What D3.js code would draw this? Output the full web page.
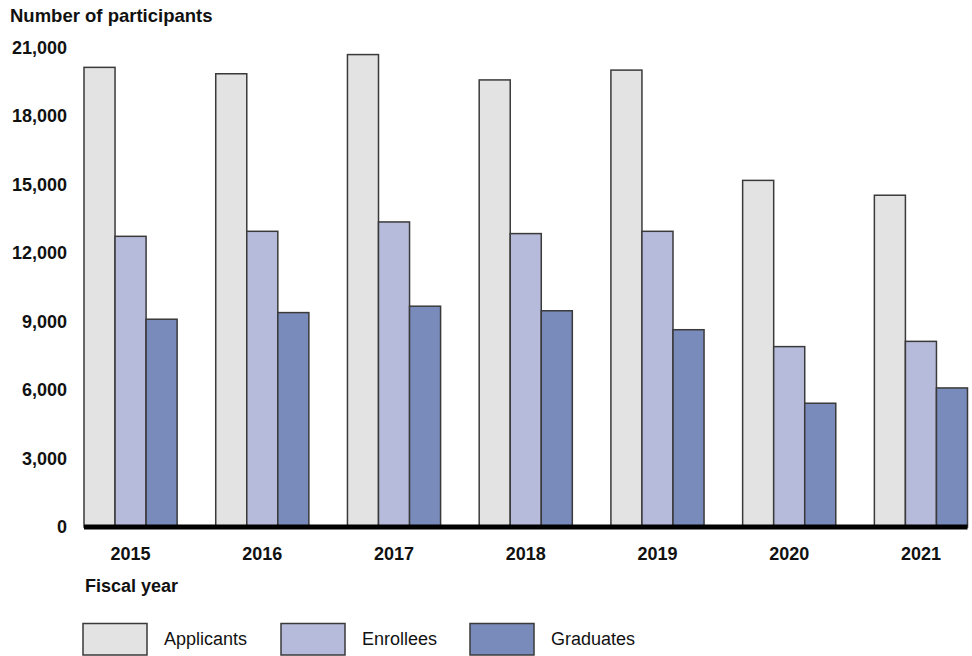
<!DOCTYPE html>
<html>
<head>
<meta charset="utf-8">
<script src="https://cdn.jsdelivr.net/npm/d3@7"></script>
<style>
  html, body { margin: 0; padding: 0; background: #fff; }
  svg { display: block; font-family: "Liberation Sans", Arial, sans-serif; }
</style>
</head>
<body>
<svg id="chart" width="972" height="656"></svg>
<script>
const years = ["2015", "2016", "2017", "2018", "2019", "2020", "2021"];
const seriesNames = ["Applicants", "Enrollees", "Graduates"];
const applicants = [20130, 19850, 20690, 19580, 20010, 15180, 14530];
const enrollees  = [12730, 12950, 13360, 12850, 12950, 7900, 8130];
const graduates  = [9100, 9390, 9670, 9470, 8640, 5420, 6090];
const yTicks = [0, 3000, 6000, 9000, 12000, 15000, 18000, 21000];
const colors = ["#e3e3e3", "#b7bbdb", "#788bba"];

const seriesValues = [applicants, enrollees, graduates];

const svg = d3.select("#chart");

const x0 = d3.scaleBand().domain(years).range([84, 967.5]).paddingInner(0.293).paddingOuter(0);
const x1 = d3.scaleBand().domain(seriesNames).range([0, x0.bandwidth()]).padding(0);
const y = d3.scaleLinear().domain([0, 21000]).range([527, 47.5]);

// Y axis title
svg.append("text").attr("x", 10).attr("y", 22)
  .attr("font-size", 18.5).attr("font-weight", "bold").attr("fill", "#111")
  .text("Number of participants");

// Y axis (labels only)
const yAxis = d3.axisLeft(y).tickValues(yTicks).tickSize(0).tickPadding(0)
  .tickFormat(d3.format(","));
const gy = svg.append("g").attr("transform", "translate(67,0)").call(yAxis);
gy.select(".domain").remove();
gy.selectAll("text").attr("font-size", 18).attr("font-weight", "bold")
  .attr("fill", "#111").attr("font-family", "Liberation Sans, Arial, sans-serif");

// Bars
const groups = svg.append("g").selectAll("g").data(years).join("g")
  .attr("transform", d => `translate(${x0(d)},0)`);
groups.selectAll("rect").data((d, i) => seriesNames.map((s, j) => ({ s, j, v: seriesValues[j][i] })))
  .join("rect")
  .attr("x", d => x1(d.s))
  .attr("y", d => y(d.v))
  .attr("width", x1.bandwidth())
  .attr("height", d => y(0) - y(d.v))
  .attr("fill", d => colors[d.j])
  .attr("stroke", "#3a3a3a")
  .attr("stroke-width", 1.5);

// Baseline
svg.append("line")
  .attr("x1", x0.range()[0]).attr("x2", x0.range()[1])
  .attr("y1", y(0)).attr("y2", y(0))
  .attr("stroke", "#000").attr("stroke-width", 5);

// X axis labels
const xAxis = d3.axisBottom(x0).tickSize(0).tickPadding(0);
const gx = svg.append("g").attr("transform", "translate(0,547)").call(xAxis);
gx.select(".domain").remove();
gx.selectAll("text").attr("font-size", 18).attr("font-weight", "bold")
  .attr("fill", "#111").attr("font-family", "Liberation Sans, Arial, sans-serif")
  .attr("dy", "0.71em");

// X axis title
svg.append("text").attr("x", 85).attr("y", 592)
  .attr("font-size", 18).attr("font-weight", "bold").attr("fill", "#111")
  .text("Fiscal year");

// Legend
const legendX = [83, 281, 470];
const leg = svg.append("g").selectAll("g").data(seriesNames).join("g")
  .attr("transform", (d, i) => `translate(${legendX[i]},623.5)`);
leg.append("rect").attr("width", 64).attr("height", 31.5)
  .attr("fill", (d, i) => colors[i]).attr("stroke", "#3a3a3a").attr("stroke-width", 1.5);
leg.append("text").attr("x", 81).attr("y", 21.5)
  .attr("font-size", 18).attr("fill", "#111").text(d => d);
</script>
</body>
</html>
